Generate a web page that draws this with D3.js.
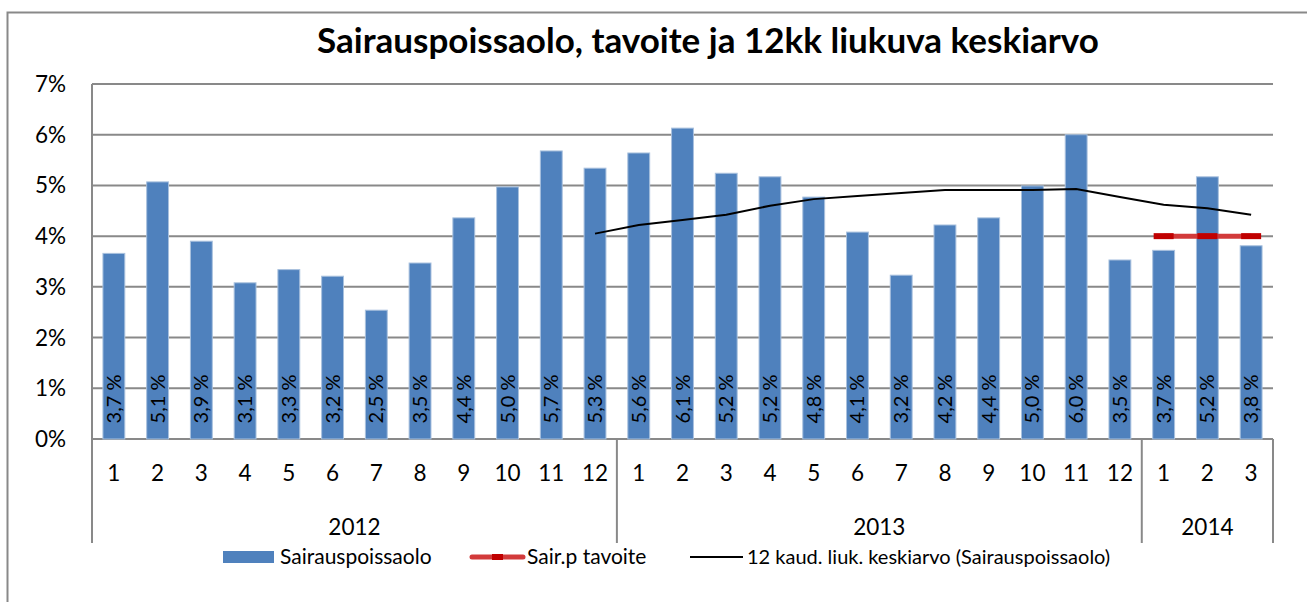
<!DOCTYPE html>
<html>
<head>
<meta charset="utf-8">
<script src="https://cdn.jsdelivr.net/npm/d3@7"></script>
<style>
  body { margin: 0; background: #fff; }
  svg text { font-family: Lato, "Liberation Sans", sans-serif; fill: #000; }
</style>
</head>
<body>
<div id="chart"></div>
<script>
// Chart data
const months = [1,2,3,4,5,6,7,8,9,10,11,12, 1,2,3,4,5,6,7,8,9,10,11,12, 1,2,3];
const years = ["2012", "2013", "2014"];
const yearSpans = [12, 12, 3];
const absence = [3.66,5.07,3.9,3.08,3.34,3.21,2.54,3.47,4.36,4.97,5.68,5.34,
                 5.64,6.13,5.24,5.17,4.77,4.08,3.23,4.22,4.36,4.99,6.0,3.53,
                 3.72,5.17,3.81];
const movingAvg = [null,null,null,null,null,null,null,null,null,null,null,4.05,
                   4.22,4.32,4.42,4.6,4.73,4.79,4.85,4.91,4.91,4.91,4.93,4.77,
                   4.62,4.55,4.42];
const target = [null,null,null,null,null,null,null,null,null,null,null,null,
                null,null,null,null,null,null,null,null,null,null,null,null,
                4,4,4];
const yTicks = [0,1,2,3,4,5,6,7];
const seriesNames = ["Sairauspoissaolo", "Sair.p tavoite", "12 kaud. liuk. keskiarvo (Sairauspoissaolo)"];
const title = "Sairauspoissaolo, tavoite ja 12kk liukuva keskiarvo";

const width = 1307, height = 602;
const margin = { top: 84, right: 34, bottom: 163, left: 92 };
const plotBottom = height - margin.bottom;
const gridColor = "#898989";

const svg = d3.select("#chart").append("svg")
    .attr("width", width)
    .attr("height", height);

// outer chart frame (only left and top edges are in view)
svg.append("path")
    .attr("d", "M7.5,602 V12.5 H1307")
    .attr("fill", "none")
    .attr("stroke", gridColor)
    .attr("stroke-width", 2);

const xScale = d3.scaleBand()
    .domain(d3.range(months.length))
    .range([margin.left, width - margin.right])
    .paddingInner(0.5)
    .paddingOuter(0.25);

const yScale = d3.scaleLinear()
    .domain([0, 7])
    .range([plotBottom, margin.top]);

const step = xScale.step();
const edge = i => xScale(0) - (step - xScale.bandwidth()) / 2 + i * step;

// title
svg.append("text")
    .attr("x", 708)
    .attr("y", 53)
    .attr("text-anchor", "middle")
    .style("font-size", "35px")
    .style("font-weight", "bold")
    .text(title);

// gridlines
svg.append("g")
    .selectAll("line")
    .data(yTicks)
    .enter()
    .append("line")
    .attr("x1", margin.left)
    .attr("x2", width - margin.right)
    .attr("y1", d => yScale(d))
    .attr("y2", d => yScale(d))
    .attr("stroke", gridColor)
    .attr("stroke-width", 2);

// y axis labels
svg.append("g")
    .selectAll("text")
    .data(yTicks)
    .enter()
    .append("text")
    .attr("x", 66)
    .attr("y", d => yScale(d) + 8)
    .attr("text-anchor", "end")
    .style("font-size", "22.5px")
    .text(d => d + "%");

// y axis line + category separators
const sepIdx = [0].concat(Array.from(d3.cumsum(yearSpans)));
svg.append("line")
    .attr("x1", margin.left).attr("x2", margin.left)
    .attr("y1", margin.top).attr("y2", 543)
    .attr("stroke", gridColor).attr("stroke-width", 2);
svg.append("g")
    .selectAll("line")
    .data(sepIdx.slice(1))
    .enter()
    .append("line")
    .attr("x1", d => edge(d))
    .attr("x2", d => edge(d))
    .attr("y1", plotBottom)
    .attr("y2", 543)
    .attr("stroke", gridColor)
    .attr("stroke-width", 2);

// bars
svg.append("g")
    .selectAll("rect")
    .data(absence)
    .enter()
    .append("rect")
    .attr("x", (d, i) => xScale(i))
    .attr("y", d => yScale(d))
    .attr("width", xScale.bandwidth())
    .attr("height", d => plotBottom - yScale(d))
    .attr("fill", "#4f81bd")
    .attr("stroke", "#a9c1de")
    .attr("stroke-width", 1);

// bar labels (rotated, inside base)
svg.append("g")
    .selectAll("text")
    .data(absence)
    .enter()
    .append("text")
    .attr("transform", (d, i) => `translate(${xScale(i) + xScale.bandwidth() / 2 + 7},399) rotate(-90)`)
    .attr("text-anchor", "middle")
    .style("font-size", "20px")
    .text(d => d.toFixed(1).replace(".", ",") + " %");

// month labels
svg.append("g")
    .selectAll("text")
    .data(months)
    .enter()
    .append("text")
    .attr("x", (d, i) => xScale(i) + xScale.bandwidth() / 2)
    .attr("y", 481)
    .attr("text-anchor", "middle")
    .style("font-size", "22.5px")
    .text(d => d);

// year labels
svg.append("g")
    .selectAll("text")
    .data(years)
    .enter()
    .append("text")
    .attr("x", (d, i) => (edge(sepIdx[i]) + edge(sepIdx[i + 1])) / 2)
    .attr("y", 535)
    .attr("text-anchor", "middle")
    .style("font-size", "22.5px")
    .text(d => d);

// moving average line
const line = d3.line()
    .defined(d => d != null)
    .x((d, i) => xScale(i) + xScale.bandwidth() / 2)
    .y(d => yScale(d));

svg.append("path")
    .datum(movingAvg)
    .attr("fill", "none")
    .attr("stroke", "#000")
    .attr("stroke-width", 2)
    .attr("d", line);

// target line with dash markers
svg.append("path")
    .datum(target)
    .attr("fill", "none")
    .attr("stroke", "#d23a3a")
    .attr("stroke-width", 5)
    .attr("d", line);

svg.append("g")
    .selectAll("rect")
    .data(target.map((v, i) => ({ v, i })).filter(d => d.v != null))
    .enter()
    .append("rect")
    .attr("x", d => xScale(d.i) + xScale.bandwidth() / 2 - 10)
    .attr("y", d => yScale(d.v) - 3)
    .attr("width", 20)
    .attr("height", 6)
    .attr("fill", "#c00000");

// legend
const legend = svg.append("g");
legend.append("rect")
    .attr("x", 223).attr("y", 551)
    .attr("width", 51).attr("height", 12)
    .attr("fill", "#4f81bd");
legend.append("text")
    .attr("x", 280).attr("y", 564)
    .style("font-size", "21px")
    .text(seriesNames[0]);

legend.append("line")
    .attr("x1", 472).attr("x2", 523)
    .attr("y1", 557).attr("y2", 557)
    .attr("stroke", "#d23a3a")
    .attr("stroke-width", 5)
    .attr("stroke-linecap", "round");
legend.append("rect")
    .attr("x", 492).attr("y", 554)
    .attr("width", 11).attr("height", 6)
    .attr("fill", "#c00000");
legend.append("text")
    .attr("x", 527).attr("y", 564)
    .style("font-size", "21px")
    .text(seriesNames[1]);

legend.append("line")
    .attr("x1", 690).attr("x2", 743)
    .attr("y1", 557).attr("y2", 557)
    .attr("stroke", "#000")
    .attr("stroke-width", 2);
legend.append("text")
    .attr("x", 747).attr("y", 564)
    .style("font-size", "20px")
    .text(seriesNames[2]);
</script>
</body>
</html>
